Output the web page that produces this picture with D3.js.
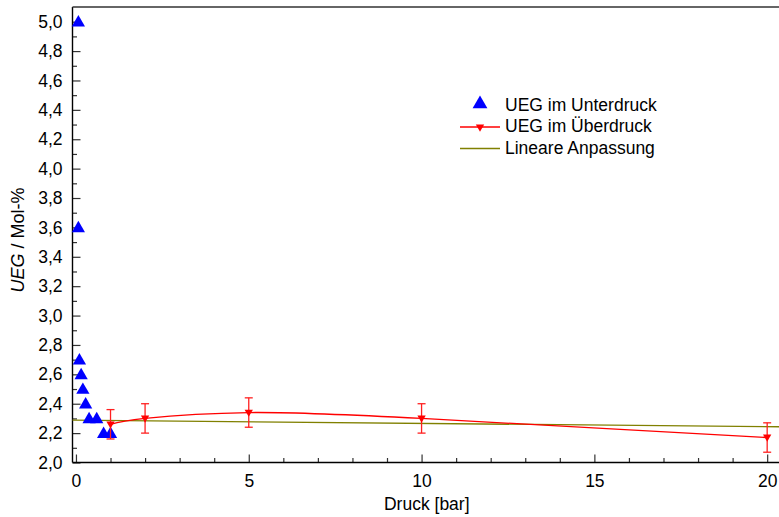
<!DOCTYPE html>
<html>
<head>
<meta charset="utf-8">
<script src="https://cdn.jsdelivr.net/npm/d3@7"></script>
<style>
  html, body { margin: 0; padding: 0; background: #fff; }
  svg { display: block; font-family: "Liberation Sans", Arial, sans-serif; }
</style>
</head>
<body>
<svg id="chart" width="779" height="517"></svg>
<script>
// Lower explosion limit (UEG) vs. pressure
const underPressure = [0.07, 0.07, 0.1, 0.15, 0.2, 0.28, 0.38, 0.6, 0.8, 1.0];
const underUEG      = [5.0, 3.6, 2.7, 2.6, 2.5, 2.4, 2.3, 2.3, 2.2, 2.2];

const overPressure = [1, 2, 5, 10, 20];
const overUEG      = [2.26, 2.30, 2.34, 2.30, 2.17];
const overError    = [0.1, 0.1, 0.1, 0.1, 0.1];

// Linear fit: UEG = fitIntercept + fitSlope * p
const fitIntercept = 2.288;
const fitSlope = -0.0022;

const xTicksMajor = [0, 5, 10, 15, 20];
const yTicksMajor = [2.0, 2.2, 2.4, 2.6, 2.8, 3.0, 3.2, 3.4, 3.6, 3.8, 4.0, 4.2, 4.4, 4.6, 4.8, 5.0];

const legendLabels = ["UEG im Unterdruck", "UEG im Überdruck", "Lineare Anpassung"];

const svg = d3.select("#chart");
const plotL = 72.5, plotT = 7, plotB = 462.5, plotR = 781;

const x = d3.scaleLinear().domain([-0.1, 20.4]).range([plotL, plotR]);
const y = d3.scaleLinear().domain([2.0, 5.1]).range([plotB, plotT]);

const de = d3.formatLocale({ decimal: ",", thousands: ".", grouping: [3], currency: ["", "€"] });
const fmtY = de.format(".1f");

const fontSize = 17.5;

// minor ticks
const xMinor = d3.range(0, 21, 1).filter(v => !xTicksMajor.includes(v));
const yMinor = d3.range(2.1, 5.1, 0.2).map(v => +v.toFixed(1));

function styleAxis(g) {
  g.selectAll(".domain").remove();
  g.selectAll(".tick line").attr("stroke", "#333").attr("stroke-width", 1.2);
  g.selectAll(".tick text").attr("fill", "#000").style("font-size", fontSize + "px")
    .style("font-family", "'Liberation Sans', Arial, sans-serif");
}

svg.append("g").attr("transform", `translate(0,${plotB})`)
  .call(d3.axisBottom(x).tickValues(xMinor).tickSize(-4.5).tickFormat(""))
  .call(styleAxis);
svg.append("g").attr("transform", `translate(0,${plotB})`)
  .call(d3.axisBottom(x).tickValues(xTicksMajor).tickSize(-8).tickPadding(12).tickFormat(d3.format("d")))
  .call(styleAxis);

svg.append("g").attr("transform", `translate(${plotL},0)`)
  .call(d3.axisLeft(y).tickValues(yMinor).tickSize(-4.5).tickFormat(""))
  .call(styleAxis);
svg.append("g").attr("transform", `translate(${plotL},0)`)
  .call(d3.axisLeft(y).tickValues(yTicksMajor).tickSize(-8).tickPadding(10).tickFormat(fmtY))
  .call(styleAxis);

// frame lines
svg.append("line").attr("x1", plotL).attr("x2", plotR).attr("y1", plotB).attr("y2", plotB)
  .attr("stroke", "#000").attr("stroke-width", 1.4);
svg.append("line").attr("x1", plotL).attr("x2", plotL).attr("y1", plotT).attr("y2", plotB)
  .attr("stroke", "#000").attr("stroke-width", 1.4);
svg.append("line").attr("x1", plotL).attr("x2", plotR).attr("y1", plotT).attr("y2", plotT)
  .attr("stroke", "#333").attr("stroke-width", 1.4);

// axis titles
svg.append("text").attr("x", (plotL + plotR) / 2).attr("y", 510)
  .attr("text-anchor", "middle").style("font-size", fontSize + "px").text("Druck [bar]");

const yt = svg.append("text")
  .attr("transform", `translate(24,240) rotate(-90)`)
  .attr("text-anchor", "middle").style("font-size", "18px");
yt.append("tspan").style("font-style", "italic").text("UEG");
yt.append("tspan").text(" / Mol-%");

const plot = svg.append("g");

// linear fit
const xd = x.domain();
plot.append("path")
  .datum(xd.map(p => [p, fitIntercept + fitSlope * p]))
  .attr("d", d3.line().x(d => x(d[0])).y(d => y(d[1])))
  .attr("fill", "none").attr("stroke", "#808000").attr("stroke-width", 1.3);

// under-pressure points
const triUp = d3.symbol().type(d3.symbolTriangle).size(76);
plot.selectAll(".under").data(underPressure.map((p, i) => [p, underUEG[i]]))
  .join("path").attr("class", "under")
  .attr("d", triUp)
  .attr("transform", d => `translate(${x(d[0])},${y(d[1]) + 1})`)
  .attr("fill", "#0000ff");

// over-pressure series
const over = overPressure.map((p, i) => ({ p, v: overUEG[i], e: overError[i] }));
plot.append("path").datum(over)
  .attr("d", d3.line().x(d => x(d.p)).y(d => y(d.v)).curve(d3.curveNatural))
  .attr("fill", "none").attr("stroke", "#ff0000").attr("stroke-width", 1.3);

const eb = plot.selectAll(".err").data(over).join("g").attr("class", "err")
  .attr("stroke", "#ff2020").attr("stroke-width", 1.3);
eb.append("line").attr("x1", d => x(d.p)).attr("x2", d => x(d.p))
  .attr("y1", d => y(d.v - d.e)).attr("y2", d => y(d.v + d.e));
eb.append("line").attr("x1", d => x(d.p) - 4).attr("x2", d => x(d.p) + 4)
  .attr("y1", d => y(d.v - d.e)).attr("y2", d => y(d.v - d.e));
eb.append("line").attr("x1", d => x(d.p) - 4).attr("x2", d => x(d.p) + 4)
  .attr("y1", d => y(d.v + d.e)).attr("y2", d => y(d.v + d.e));

const triDown = d3.symbol().type(d3.symbolTriangle).size(30);
plot.selectAll(".over").data(over).join("path").attr("class", "over")
  .attr("d", triDown)
  .attr("transform", d => `translate(${x(d.p)},${y(d.v) - 0.5}) rotate(180)`)
  .attr("fill", "#ff0000");

// legend
const lg = svg.append("g").style("font-size", fontSize + "px");
const rowY = [103, 127, 148.5];
const rowBase = [111, 132, 153.5];
lg.append("path").attr("d", d3.symbol().type(d3.symbolTriangle).size(95))
  .attr("transform", `translate(480,${rowY[0] + 1})`).attr("fill", "#0000ff");
lg.append("line").attr("x1", 460).attr("x2", 500).attr("y1", rowY[1]).attr("y2", rowY[1])
  .attr("stroke", "#ff0000").attr("stroke-width", 1.3);
lg.append("path").attr("d", triDown)
  .attr("transform", `translate(480,${rowY[1]}) rotate(180)`).attr("fill", "#ff0000");
lg.append("line").attr("x1", 460).attr("x2", 500).attr("y1", rowY[2]).attr("y2", rowY[2])
  .attr("stroke", "#808000").attr("stroke-width", 1.3);
legendLabels.forEach((t, i) => {
  lg.append("text").attr("x", 505).attr("y", rowBase[i]).text(t);
});
</script>
</body>
</html>
